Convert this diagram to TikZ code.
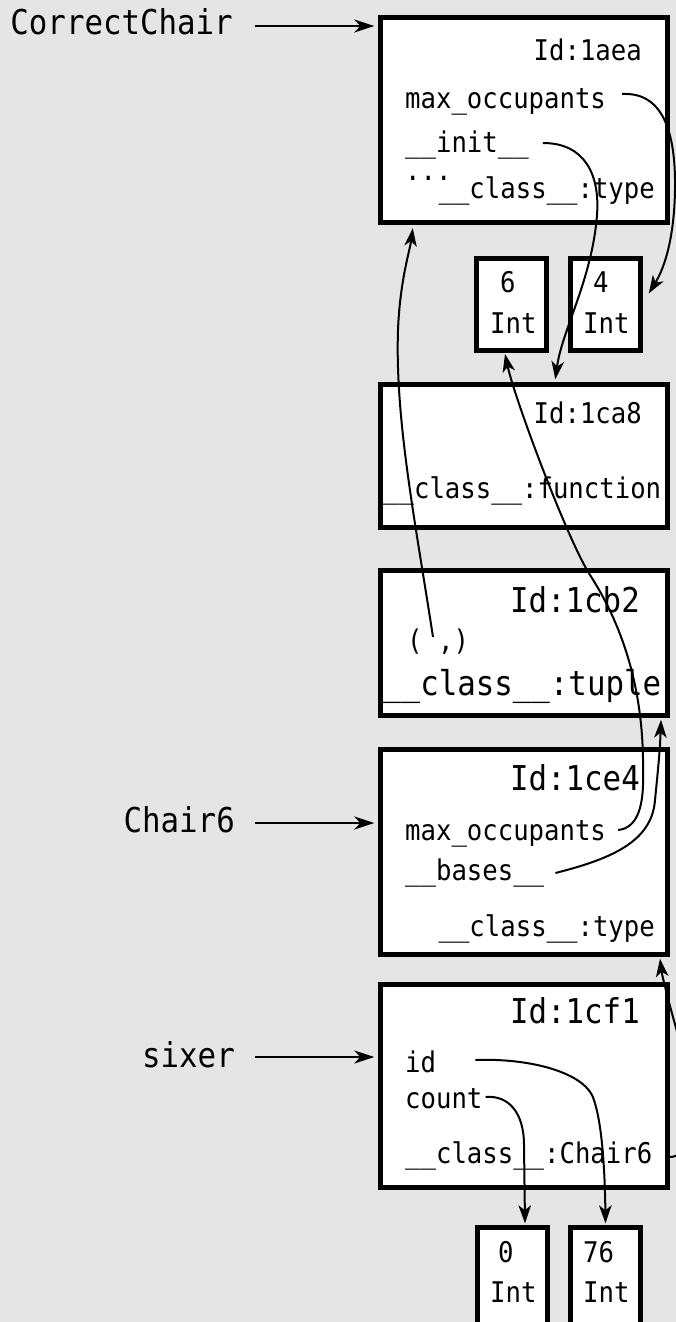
\documentclass[tikz,border=0pt]{standalone}
\usepackage{fontspec}
\newfontfamily\dmono[FakeStretch=0.9]{DejaVu Sans Mono}
\usetikzlibrary{arrows.meta,calc}
\definecolor{bggray}{HTML}{E5E5E5}
\newcommand\fsmall{\dmono\fontsize{28.5}{33}\selectfont}
\newcommand\fbig{\dmono\fontsize{34.2}{40}\selectfont}
\tikzset{
  objbox/.style={draw=black, line width=4.6pt, fill=white, inner sep=0pt, outer sep=0pt, rectangle},
  stxt/.style={inner sep=0pt, font=\fsmall, text=black},
  btxt/.style={inner sep=0pt, font=\fbig, text=black},
  ref/.style={line width=2pt, -{Stealth[length=18pt,width=12.5pt,inset=5pt]}},
  lref/.style={line width=2pt, -{Stealth[length=20pt,width=13pt,inset=6pt]}},
}
\begin{document}
\begin{tikzpicture}[x=1pt,y=-1pt]
\useasboundingbox (0,0) rectangle (676,1322);
\clip (0,0) rectangle (676,1322);
\fill[bggray] (0,0) rectangle (676,1322);

% object boxes
\node[objbox, minimum width=287.4pt, minimum height=205.4pt] (aea) at (524,120) {};
\node[objbox, minimum width=70.4pt, minimum height=92.4pt] (i6) at (511.5,304.5) {};
\node[objbox, minimum width=70.4pt, minimum height=92.4pt] (i4) at (605.5,304.5) {};
\node[objbox, minimum width=287.4pt, minimum height=143.4pt] (ca8) at (524,456) {};
\node[objbox, minimum width=287.4pt, minimum height=145.4pt] (cb2) at (524,643) {};
\node[objbox, minimum width=287.4pt, minimum height=205.4pt] (ce4) at (524,852) {};
\node[objbox, minimum width=287.4pt, minimum height=203.4pt] (cf1) at (524,1086) {};
\node[objbox, minimum width=70.4pt, minimum height=110pt] (i0) at (512.5,1282.3) {};
\node[objbox, minimum width=70.4pt, minimum height=110pt] (i76) at (605.5,1282.3) {};

% texts of 1aea
\node[stxt, anchor=base east] (id1) at (642,60) {Id:1aea};
\node[stxt, anchor=base west] (m1) at (405,108) {max\_occupants};
\node[stxt, anchor=base west] (in1) at (405,152) {\_\_init\_\_};
\node[stxt, anchor=base west] (dots) at (405,180) {...};
\node[stxt, anchor=base east] (cl1) at (655,198) {\_\_class\_\_:type};

% ints
\node[stxt, anchor=base west] (v6) at (500,292) {6};
\node[stxt, anchor=base west] (t6) at (490,333) {Int};
\node[stxt, anchor=base west] (v4) at (593,292) {4};
\node[stxt, anchor=base west] (t4) at (583,333) {Int};

% 1ca8
\node[stxt, anchor=base east] (id2) at (642,423) {Id:1ca8};
\node[stxt, anchor=base west] (cl2) at (383,498) {\_\_class\_\_:function};

% 1cb2
\node[btxt, anchor=base east] (id3) at (640,612) {Id:1cb2};
\node[stxt, anchor=base west] (tup) at (407,650) {( ,)};
\node[btxt, anchor=base west] (cl3) at (383,695) {\_\_class\_\_:tuple};

% 1ce4
\node[btxt, anchor=base east] (id4) at (640,790) {Id:1ce4};
\node[stxt, anchor=base west] (m4) at (405,840) {max\_occupants};
\node[stxt, anchor=base west] (bas) at (405,880) {\_\_bases\_\_};
\node[stxt, anchor=base east] (cl4) at (655,936) {\_\_class\_\_:type};

% 1cf1
\node[btxt, anchor=base east] (id5) at (640,1023) {Id:1cf1};
\node[stxt, anchor=base west] (nid) at (405,1072) {id};
\node[stxt, anchor=base west] (cnt) at (405,1108) {count};
\node[stxt, anchor=base west] (cl5) at (405,1163) {\_\_class\_\_:Chair6};

% bottom ints
\node[stxt, anchor=base west] (v0) at (498,1262) {0};
\node[stxt, anchor=base west] (t0) at (490,1302) {Int};
\node[stxt, anchor=base west] (v76) at (583,1262) {76};
\node[stxt, anchor=base west] (t76) at (583,1302) {Int};

% variable labels
\node[btxt, anchor=base east] (lcc) at (233,35) {CorrectChair};
\node[btxt, anchor=base east] (lc6) at (235,832) {Chair6};
\node[btxt, anchor=base east] (lsx) at (235,1067) {sixer};

\draw[lref] ($(lcc.base east)+(22,-9)$) -- ($(lcc.base east -| aea.west)+(-6,-9)$);
\draw[lref] ($(lc6.base east)+(20,-9)$) -- ($(lc6.base east -| ce4.west)+(-6,-9)$);
\draw[lref] ($(lsx.base east)+(20,-10)$) -- ($(lsx.base east -| cf1.west)+(-6,-10)$);

% references
\draw[ref] ($(m1.base east)+(16,-14)$) .. controls (662,92) and (676,130) .. (675,190)
  .. controls (674,245) and (662,272) .. ($(i4.east)+(8,-11)$);
\draw[ref] ($(in1.base east)+(14,-9)$) .. controls (585,143) and (600,175) .. (597,215)
  .. controls (592,280) and (562,330) .. ($(ca8.north west)+(175,-5)$);
\draw[ref] ($(tup.base west)+(26,-13)$) .. controls (415,520) and (395,420) .. (398,330)
  .. controls (400,280) and (410,250) .. ($(aea.south west)+(32.5,5.5)$);
\draw[ref] ($(m4.base east)+(12,-10)$) .. controls (638,828) and (644,805) .. (643,773)
  .. controls (644,710) and (632,640) .. (590,575)
  .. controls (568,541) and (515,400) .. ($(i6.south)+(-6.5,3.3)$);
\draw[ref] ($(bas.base east)+(11,-7)$) .. controls (615,858) and (652,840) .. (655,800)
  .. controls (658,770) and (660,750) .. ($(cb2.south east)+(-6.7,4)$);
\draw[ref] ($(cf1.east)+(2,71)$) .. controls (700,1157) and (700,1080) .. (678,1035)
  .. controls (668,1000) and (662,975) .. ($(ce4.south east)+(-7.7,4)$);
\draw[ref] ($(nid.base east)+(39,-12)$) .. controls (530,1058) and (580,1072) .. (592,1095)
  .. controls (603,1120) and (605,1180) .. ($(i76.north)+(0,-4)$);
\draw[ref] ($(cnt.base east)+(3,-11)$) .. controls (508,1095) and (524,1112) .. (524,1145)
  -- ($(i0.north)+(12.5,-4)$);
\end{tikzpicture}
\end{document}
